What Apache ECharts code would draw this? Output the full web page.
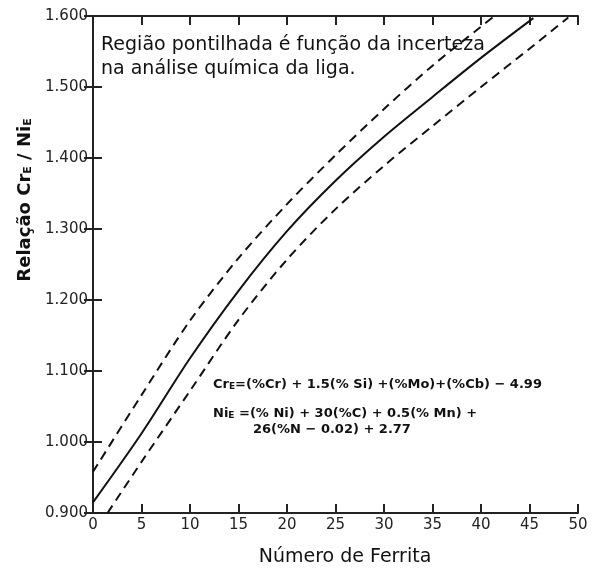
<!DOCTYPE html>
<html>
<head>
<meta charset="utf-8">
<script src="https://cdn.jsdelivr.net/npm/echarts@6/dist/echarts.min.js"></script>
<style>html,body{margin:0;padding:0;background:#fff;}#c{width:592px;height:569px;}</style>
</head>
<body>
<div id="c"></div>
<script>
// Data
var xTicks = [0, 5, 10, 15, 20, 25, 30, 35, 40, 45, 50];
var yTickLabels = ['0.900', '1.000', '1.100', '1.200', '1.300', '1.400', '1.500', '1.600'];
var solidX = [0, 5, 10, 15, 20, 25, 30, 35, 40, 45.4];
var solidY = [0.915, 1.012, 1.118, 1.213, 1.297, 1.368, 1.43, 1.486, 1.541, 1.597];
var upperX = [0, 5, 10, 15, 20, 25, 30, 35, 40, 41.3];
var upperY = [0.958, 1.066, 1.171, 1.259, 1.335, 1.404, 1.469, 1.53, 1.585, 1.599];
var lowerX = [1.5, 5, 10, 15, 20, 25, 30, 35, 40, 45, 49];
var lowerY = [0.9, 0.972, 1.072, 1.172, 1.257, 1.328, 1.389, 1.445, 1.5, 1.554, 1.598];
var noteLines = ['Região pontilhada é função da incerteza', 'na análise química da liga.'];
var xName = 'Número de Ferrita';

function pairs(xs, ys) { return xs.map(function (x, i) { return [x, ys[i]]; }); }

var chart = echarts.init(document.getElementById('c'));
var F = 'DejaVu Sans';
var axisLine = { show: true, lineStyle: { color: '#222', width: 2 } };
var tick = { show: true, inside: true, length: 9, lineStyle: { color: '#222', width: 2 } };

chart.setOption({
  animation: false,
  backgroundColor: '#fff',
  grid: { left: 93, right: 14, top: 16, bottom: 56 },
  xAxis: [{
    type: 'value', min: 0, max: 50, interval: 5, position: 'bottom',
    axisLine: axisLine, axisTick: tick, splitLine: { show: false },
    axisLabel: { fontFamily: F, fontSize: 15, color: '#222', margin: 5,
      formatter: function (v) { return xTicks.indexOf(v) >= 0 ? String(v) : ''; } }
  }, {
    type: 'value', min: 0, max: 50, interval: 5, position: 'top',
    axisLine: axisLine, axisTick: tick, axisLabel: { show: false }, splitLine: { show: false }
  }],
  yAxis: [{
    type: 'value', min: 0.9, max: 1.6, interval: 0.1, position: 'left',
    axisLine: axisLine, axisTick: tick, splitLine: { show: false },
    axisLabel: { fontFamily: F, fontSize: 15, color: '#222', margin: 5,
      formatter: function (v) { return yTickLabels[Math.round((v - 0.9) * 10)]; } }
  }, {
    type: 'value', min: 0.9, max: 1.6, interval: 0.1, position: 'right',
    axisLine: axisLine, axisTick: tick, axisLabel: { show: false }, splitLine: { show: false }
  }],
  series: [
    { type: 'line', data: pairs(solidX, solidY), smooth: 0.3, showSymbol: false,
      lineStyle: { color: '#111', width: 2 } },
    { type: 'line', data: pairs(upperX, upperY), smooth: 0.3, showSymbol: false,
      lineStyle: { color: '#111', width: 2, type: [9, 6] } },
    { type: 'line', data: pairs(lowerX, lowerY), smooth: 0.3, showSymbol: false,
      lineStyle: { color: '#111', width: 2, type: [9, 6] } }
  ],
  graphic: [
    { type: 'text', left: 101, top: 36, style: { text: noteLines[0], font: '19px "DejaVu Sans"', fill: '#111' } },
    { type: 'text', left: 101, top: 60, style: { text: noteLines[1], font: '19px "DejaVu Sans"', fill: '#111' } },
    { type: 'text', x: 345, y: 557, style: { text: xName, font: '19px "DejaVu Sans"', fill: '#111', align: 'center', verticalAlign: 'middle' } },
    { type: 'text', x: 25, y: 200, rotation: Math.PI / 2,
      style: { text: 'Relação Cr{s|E} / Ni{s|E}', font: 'bold 18px "DejaVu Sans"', fill: '#111',
        align: 'center', verticalAlign: 'middle',
        rich: { s: { fontSize: 11, fontWeight: 'bold', fontFamily: F, padding: [7, 0, 0, 0] } } } },
    { type: 'text', left: 213, top: 378,
      style: { text: 'Cr{s|E}=(%Cr) + 1.5(% Si) +(%Mo)+(%Cb) − 4.99', font: 'bold 13px "DejaVu Sans"', fill: '#111',
        rich: { s: { fontSize: 9, fontWeight: 'bold', fontFamily: F, padding: [5, 0, 0, 0] } } } },
    { type: 'text', left: 213, top: 407,
      style: { text: 'Ni{s|E} =(% Ni) + 30(%C) + 0.5(% Mn) +', font: 'bold 13px "DejaVu Sans"', fill: '#111',
        rich: { s: { fontSize: 9, fontWeight: 'bold', fontFamily: F, padding: [5, 0, 0, 0] } } } },
    { type: 'text', left: 253, top: 423,
      style: { text: '26(%N − 0.02) + 2.77', font: 'bold 13px "DejaVu Sans"', fill: '#111' } }
  ]
});
</script>
</body>
</html>
